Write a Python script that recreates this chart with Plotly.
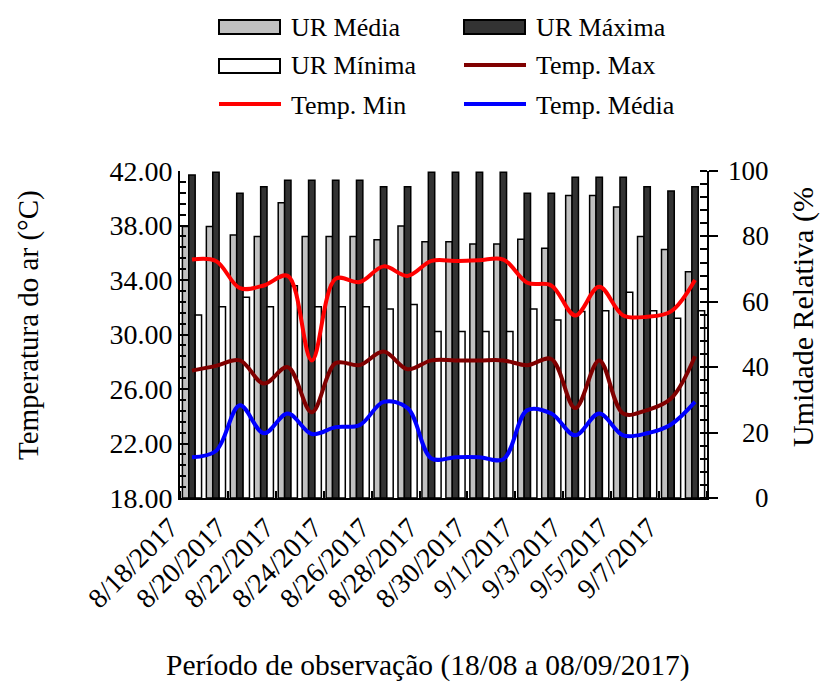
import plotly.graph_objects as go

# Observation days
dates = ["8/18/2017", "8/19/2017", "8/20/2017", "8/21/2017", "8/22/2017", "8/23/2017",
         "8/24/2017", "8/25/2017", "8/26/2017", "8/27/2017", "8/28/2017", "8/29/2017",
         "8/30/2017", "8/31/2017", "9/1/2017", "9/2/2017", "9/3/2017", "9/4/2017",
         "9/5/2017", "9/6/2017", "9/7/2017", "9/8/2017"]

# Relative humidity (%)
ur_media = [83.0, 83.0, 80.4, 80.0, 90.3, 80.0, 80.0, 80.0, 79.0, 83.2, 78.4,
            78.4, 77.7, 77.7, 79.1, 76.4, 92.5, 92.5, 89.0, 80.0, 76.0, 69.2]
ur_maxima = [98.8, 99.6, 93.2, 95.2, 97.2, 97.2, 97.2, 97.2, 95.2, 95.2, 99.6,
             99.6, 99.6, 99.6, 93.2, 93.2, 98.1, 98.1, 98.1, 95.2, 93.9, 95.2]
ur_minima = [56.0, 58.5, 61.4, 58.5, 64.9, 58.5, 58.5, 58.5, 57.8, 59.2, 50.9,
             50.9, 50.9, 50.9, 57.8, 54.4, 57.0, 57.3, 62.9, 57.3, 55.0, 57.3]

# Air temperature (°C)
temp_min = [35.5, 35.4, 33.4, 33.6, 34.3, 28.1, 34.1, 33.85, 35.0, 34.3, 35.4,
            35.4, 35.45, 35.5, 33.8, 33.6, 31.4, 33.5, 31.4, 31.3, 31.7, 34.0]
temp_max = [27.35, 27.7, 28.1, 26.4, 27.6, 24.3, 27.9, 27.75, 28.75, 27.45, 28.1,
            28.1, 28.1, 28.1, 27.75, 28.2, 24.6, 28.1, 24.2, 24.45, 25.3, 28.4]
temp_media = [21.0, 21.45, 24.8, 22.75, 24.2, 22.7, 23.2, 23.35, 25.05, 24.6, 20.9,
              21.0, 21.0, 20.85, 24.45, 24.2, 22.6, 24.2, 22.6, 22.75, 23.4, 25.05]

temp_ticks = [18, 22, 26, 30, 34, 38, 42]
ur_ticks = [0, 20, 40, 60, 80, 100]

FONT = "'Liberation Serif', 'Times New Roman', Times, serif"
x = list(range(len(dates)))

# plot-area box in pixels (figure is 821 x 688)
PL, PR, PT, PB = 180, 707, 171, 498
W, H = 821, 688


def px(v):
    return (v - PL) / (PR - PL)


def py(v):
    return (PB - v) / (PB - PT)


fig = go.Figure()

bar_line = dict(color="black", width=1.5)
fig.add_trace(go.Bar(x=x, y=ur_media, name="UR Média", yaxis="y",
                     marker=dict(color="#c0c0c0", line=bar_line)))
fig.add_trace(go.Bar(x=x, y=ur_maxima, name="UR Máxima", yaxis="y",
                     marker=dict(color="#333333", line=bar_line)))
fig.add_trace(go.Bar(x=x, y=ur_minima, name="UR Mínima", yaxis="y",
                     marker=dict(color="#ffffff", line=bar_line)))

line_style = dict(width=4, shape="spline", smoothing=1.0)
fig.add_trace(go.Scatter(x=x, y=temp_max, name="Temp. Max", yaxis="y2", mode="lines",
                         line=dict(color="#800000", **line_style)))
fig.add_trace(go.Scatter(x=x, y=temp_min, name="Temp. Min", yaxis="y2", mode="lines",
                         line=dict(color="#ff0000", **line_style)))
fig.add_trace(go.Scatter(x=x, y=temp_media, name="Temp. Média", yaxis="y2", mode="lines",
                         line=dict(color="#0000ff", **line_style)))

fig.update_layout(
    width=W, height=H,
    margin=dict(l=PL, r=W - PR, t=PT, b=H - PB),
    paper_bgcolor="white", plot_bgcolor="white",
    showlegend=False,
    barmode="group", bargap=0.2, bargroupgap=0,
    font=dict(family=FONT, color="black"),
    xaxis=dict(
        range=[-0.5, len(dates) - 0.5],
        tickmode="array",
        tickvals=x[::2], ticktext=dates[::2],
        tickangle=-45, tickfont=dict(family=FONT, size=28, color="black"),
        ticklabelshift=-22,
        ticks="", showgrid=False, zeroline=False,
        showline=True, linecolor="black", linewidth=2,
        minor=dict(tickmode="array", tickvals=[k - 0.5 for k in range(0, len(dates) + 1, 2)],
                   ticks="inside", ticklen=7, tickwidth=1.5, tickcolor="black", showgrid=False),
    ),
    # humidity axis (right side, labels drawn as annotations)
    yaxis=dict(
        side="right", range=[0, 100],
        tickmode="array", tickvals=ur_ticks, showticklabels=False,
        ticks="outside", ticklen=9, tickwidth=1.5, tickcolor="black",
        minor=dict(dtick=4, tick0=0, ticks="inside", ticklen=7, tickwidth=1.5, tickcolor="black"),
        showgrid=False, zeroline=False,
        showline=True, linecolor="black", linewidth=2,
    ),
    # temperature axis (left side)
    yaxis2=dict(
        side="left", overlaying="y", range=[18, 42],
        tickmode="array", tickvals=temp_ticks, tickformat=".2f",
        tickfont=dict(family=FONT, size=28, color="black"),
        ticks="inside", ticklen=9, tickwidth=1.5, tickcolor="black",
        minor=dict(dtick=0.8, tick0=18, ticks="inside", ticklen=6, tickwidth=1.5, tickcolor="black"),
        showgrid=False, zeroline=False,
        showline=True, linecolor="black", linewidth=2,
    ),
)

annotations = []
# right-aligned humidity tick labels
for t in ur_ticks:
    annotations.append(dict(x=px(771), xref="paper", y=t, yref="y", text=str(t),
                            showarrow=False, xanchor="right", yanchor="middle",
                            font=dict(family=FONT, size=27, color="black")))

# axis titles
annotations.append(dict(x=px(28), y=py(325), xref="paper", yref="paper",
                        text="Temperatura do ar (°C)", textangle=-90, showarrow=False,
                        xanchor="center", yanchor="middle",
                        font=dict(family=FONT, size=29, color="black")))
annotations.append(dict(x=px(803), y=py(317), xref="paper", yref="paper",
                        text="Umidade Relativa (%", textangle=-90, showarrow=False,
                        xanchor="center", yanchor="middle",
                        font=dict(family=FONT, size=30, color="black")))
annotations.append(dict(x=px(428), y=py(665), xref="paper", yref="paper",
                        text="Período de observação (18/08 a 08/09/2017)", showarrow=False,
                        xanchor="center", yanchor="middle",
                        font=dict(family=FONT, size=29.5, color="black")))

# legend drawn as a two-column block above the plot
shapes = []
legend_items = [
    ("UR Média", "box", "#c0c0c0", 219, 27),
    ("UR Máxima", "box", "#333333", 464, 27),
    ("UR Mínima", "box", "#ffffff", 219, 66),
    ("Temp. Max", "line", "#800000", 464, 66),
    ("Temp. Min", "line", "#ff0000", 219, 105),
    ("Temp. Média", "line", "#0000ff", 464, 105),
]
for label, kind, color, x0, yc in legend_items:
    if kind == "box":
        shapes.append(dict(type="rect", xref="paper", yref="paper",
                           x0=px(x0), x1=px(x0 + 61), y0=py(yc - 7), y1=py(yc + 7),
                           fillcolor=color, line=dict(color="black", width=2)))
    else:
        shapes.append(dict(type="line", xref="paper", yref="paper",
                           x0=px(x0), x1=px(x0 + 62), y0=py(yc - 1), y1=py(yc - 1),
                           line=dict(color=color, width=4)))
    annotations.append(dict(x=px(x0 + 70), y=py(yc), xref="paper", yref="paper",
                            text=label, showarrow=False, xanchor="left", yanchor="middle",
                            font=dict(family=FONT, size=26, color="black")))

fig.update_layout(annotations=annotations, shapes=shapes)

fig.write_html("out.html")
